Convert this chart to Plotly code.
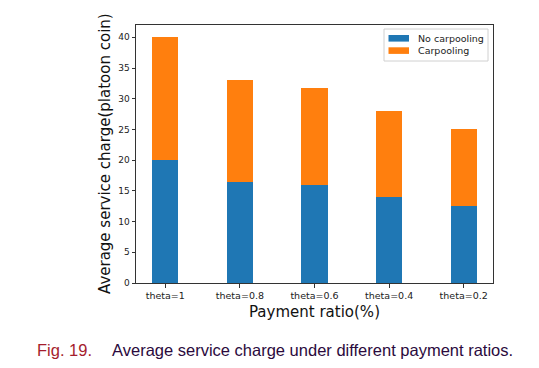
import plotly.graph_objects as go

categories = ["theta=1", "theta=0.8", "theta=0.6", "theta=0.4", "theta=0.2"]
no_carpooling = [20, 16.5, 15.9, 14, 12.5]
carpooling = [20, 16.5, 15.9, 14, 12.5]
y_ticks = [0, 5, 10, 15, 20, 25, 30, 35, 40]

BLUE = "#1f77b4"
ORANGE = "#ff7f0e"
FONT = "DejaVu Sans"

OFF = 8  # browser body margin
W, H = 539 - OFF, 368 - OFF
# plot area in page pixels
L, R, T, B = 136, 493, 25, 283


def px(x):
    return (x - L) / (R - L)


def py(y):
    return (B - y) / (B - T)


fig = go.Figure()
fig.add_trace(go.Bar(x=categories, y=no_carpooling, name="No carpooling",
                     marker=dict(color=BLUE, line=dict(width=0)), width=0.35))
fig.add_trace(go.Bar(x=categories, y=carpooling, name="Carpooling",
                     marker=dict(color=ORANGE, line=dict(width=0)), width=0.35))

fig.update_layout(
    width=W, height=H,
    margin=dict(l=L - OFF, r=W - (R - OFF), t=T - OFF, b=H - (B - OFF), pad=0),
    barmode="stack",
    plot_bgcolor="white", paper_bgcolor="white",
    showlegend=False,
    font=dict(family=FONT, color="#222"),
)
fig.update_xaxes(
    type="category", range=[-0.3925, 4.3925],
    showline=True, linecolor="#333", linewidth=1, mirror=True,
    ticks="outside", ticklen=3.5, tickcolor="#333", tickwidth=1,
    tickfont=dict(size=9.5, family=FONT, color="#222"),
    showgrid=False, zeroline=False,
)
fig.update_yaxes(
    range=[0, 42], tickvals=y_ticks,
    showline=True, linecolor="#333", linewidth=1, mirror=True,
    ticks="outside", ticklen=3.5, tickcolor="#333", tickwidth=1,
    tickfont=dict(size=9, family=FONT, color="#222"),
    showgrid=False, zeroline=False,
)

ann = []
# axis titles
ann.append(dict(text="Payment ratio(%)", x=0.5, y=py(312), xref="paper", yref="paper",
                showarrow=False, xanchor="center", yanchor="middle",
                font=dict(size=15, family=FONT, color="#111")))
ann.append(dict(text="Average service charge(platoon coin)", x=px(105), y=0.5,
                xref="paper", yref="paper", textangle=-90,
                showarrow=False, xanchor="center", yanchor="middle",
                font=dict(size=15, family=FONT, color="#111")))
# caption
ann.append(dict(text="Fig. 19.", x=px(35), y=py(350), xref="paper", yref="paper",
                showarrow=False, xanchor="left", yanchor="middle",
                font=dict(size=16.5, family="Liberation Sans", color="#a51d2d")))
ann.append(dict(text="Average service charge under different payment ratios.",
                x=px(110), y=py(350), xref="paper", yref="paper",
                showarrow=False, xanchor="left", yanchor="middle",
                font=dict(size=16.5, family="Liberation Sans", color="#2b0a3d")))

# legend (drawn to mimic matplotlib layout)
shapes = []
shapes.append(dict(type="rect", xref="paper", yref="paper",
                   x0=px(384), x1=px(488), y0=py(61), y1=py(29),
                   line=dict(color="#d0d0d0", width=1), fillcolor="rgba(255,255,255,0.85)"))
legend_items = [("No carpooling", BLUE, 38.3), ("Carpooling", ORANGE, 50.6)]
for name, col, yc in legend_items:
    shapes.append(dict(type="rect", xref="paper", yref="paper",
                       x0=px(388.5), x1=px(409), y0=py(yc + 3.3), y1=py(yc - 3.3),
                       line=dict(width=0), fillcolor=col))
    ann.append(dict(text=name, x=px(416), y=py(yc), xref="paper", yref="paper",
                    showarrow=False, xanchor="left", yanchor="middle",
                    font=dict(size=9.5, family=FONT, color="#222")))

fig.update_layout(annotations=ann, shapes=shapes)
fig.write_html("out.html")
